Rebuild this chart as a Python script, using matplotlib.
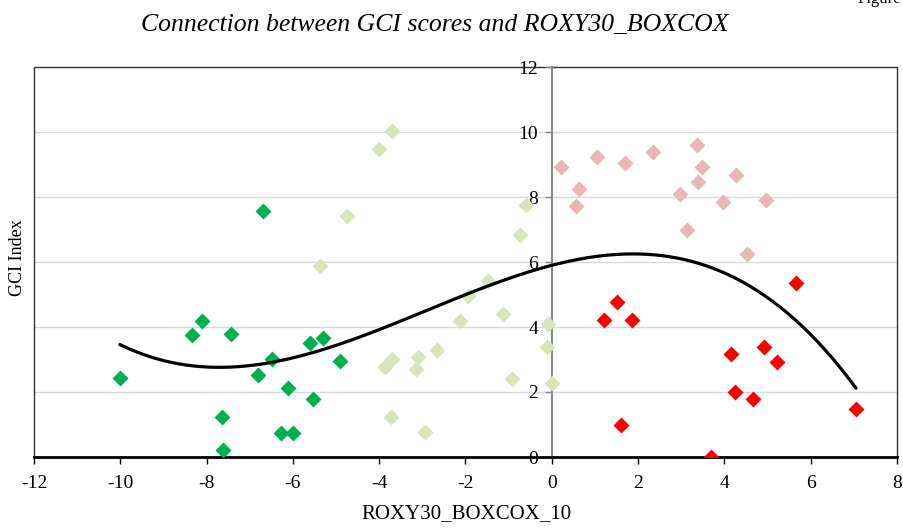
import numpy as np
import matplotlib
matplotlib.use("Agg")
import matplotlib.pyplot as plt
from matplotlib.patches import Rectangle

# ---- data ----
dg_x = [-10.01, -8.34, -8.10, -7.43, -6.70, -6.49, -6.82, -6.11, -5.54, -5.60, -5.31, -7.65, -7.63, -6.27, -6.00, -4.91]
dg_y = [2.44, 3.74, 4.18, 3.79, 7.56, 3.02, 2.53, 2.11, 1.78, 3.52, 3.66, 1.24, 0.21, 0.75, 0.73, 2.96]

lg_x = [-4.00, -3.71, -4.75, -0.60, -0.74, -1.47, -1.94, -2.13, -1.12, -0.08, -0.10, 0.01, -0.93, -2.67, -3.09, -3.15, -3.71, -3.87, -3.73, -2.95, -5.38]
lg_y = [9.48, 10.02, 7.42, 7.76, 6.84, 5.43, 4.95, 4.19, 4.40, 4.08, 3.38, 2.29, 2.41, 3.29, 3.07, 2.72, 3.01, 2.78, 1.24, 0.78, 5.89]

pk_x = [0.21, 0.63, 0.55, 1.05, 1.70, 2.35, 3.36, 3.49, 3.38, 2.97, 4.28, 3.96, 4.96, 3.13, 4.52]
pk_y = [8.91, 8.24, 7.73, 9.22, 9.06, 9.37, 9.60, 8.93, 8.46, 8.10, 8.69, 7.86, 7.92, 6.98, 6.25]

rd_x = [1.51, 1.22, 1.86, 5.65, 4.92, 4.16, 5.23, 4.25, 4.67, 7.05, 1.60, 3.70]
rd_y = [4.78, 4.23, 4.23, 5.36, 3.39, 3.17, 2.93, 2.00, 1.78, 1.47, 0.98, 0.01]

x_ticks = [-12, -10, -8, -6, -4, -2, 0, 2, 4, 6, 8]
y_ticks = [0, 2, 4, 6, 8, 10, 12]
trend_degree = 3

title = "Connection between GCI scores and ROXY30_BOXCOX"
xlabel = "ROXY30_BOXCOX_10"
ylabel = "GCI Index"

plt.rcParams['font.family'] = ['Liberation Serif', 'DejaVu Serif']

fig = plt.figure(figsize=(9.04, 5.30), dpi=100)
ax = fig.add_axes([34/904, 1-457/530, (897-34)/904, (457-67)/530])
ax.set_xlim(-12, 8)
ax.set_ylim(0, 12)

for yy in y_ticks[1:-1]:
    ax.axhline(yy, color='#D9D9D9', lw=1.0, zorder=0)

ms = 8.5
ax.plot(dg_x, dg_y, 'D', color='#00B050', ms=ms, mec='none', zorder=3)
ax.plot(lg_x, lg_y, 'D', color='#D8E4BC', ms=ms, mec='none', zorder=3)
ax.plot(pk_x, pk_y, 'D', color='#E6B8B7', ms=ms, mec='none', zorder=3)
ax.plot(rd_x, rd_y, 'D', color='#FF0000', ms=ms, mec='none', zorder=3)

# polynomial (order 3) trendline fitted to all points
all_x = np.array(dg_x + lg_x + pk_x + rd_x)
all_y = np.array(dg_y + lg_y + pk_y + rd_y)
coef = np.polyfit(all_x, all_y, trend_degree)
xs = np.linspace(all_x.min(), all_x.max(), 300)
ax.plot(xs, np.polyval(coef, xs), color='black', lw=2.3, zorder=4,
        solid_capstyle='round')

# spines
for s in ['top', 'right']:
    ax.spines[s].set_visible(False)
ax.spines['left'].set_position(('data', 0))
ax.spines['left'].set_color('#888888')
ax.spines['left'].set_linewidth(1.5)
ax.spines['bottom'].set_color('black')
ax.spines['bottom'].set_linewidth(2.0)
ax.add_patch(Rectangle((0, 0), 1, 1, transform=ax.transAxes, fill=False,
                       edgecolor='#333333', lw=1.0, zorder=1, clip_on=False))

ax.set_xticks(x_ticks)
ax.set_xticklabels([str(t) for t in x_ticks])
ax.set_yticks(y_ticks)
ax.set_yticklabels([str(t) for t in y_ticks])
ax.tick_params(axis='x', direction='out', length=5, width=1, color='black',
               labelsize=14, pad=8)
ax.tick_params(axis='y', direction='out', length=5, width=1, color='#888888',
               labelsize=14, pad=5)

fig.text(435/904, 1-25/530, title, ha='center', va='center', fontsize=18.5, style='italic')
fig.text(466/904, 1-514/530, xlabel, ha='center', va='center', fontsize=15)
fig.text(18/904, 1-258/530, ylabel, ha='center', va='center', fontsize=13, rotation=90)
fig.text(858/904, 1+1/530, "Figure", ha='left', va='center', fontsize=12)

fig.savefig("out.png", dpi=100)
